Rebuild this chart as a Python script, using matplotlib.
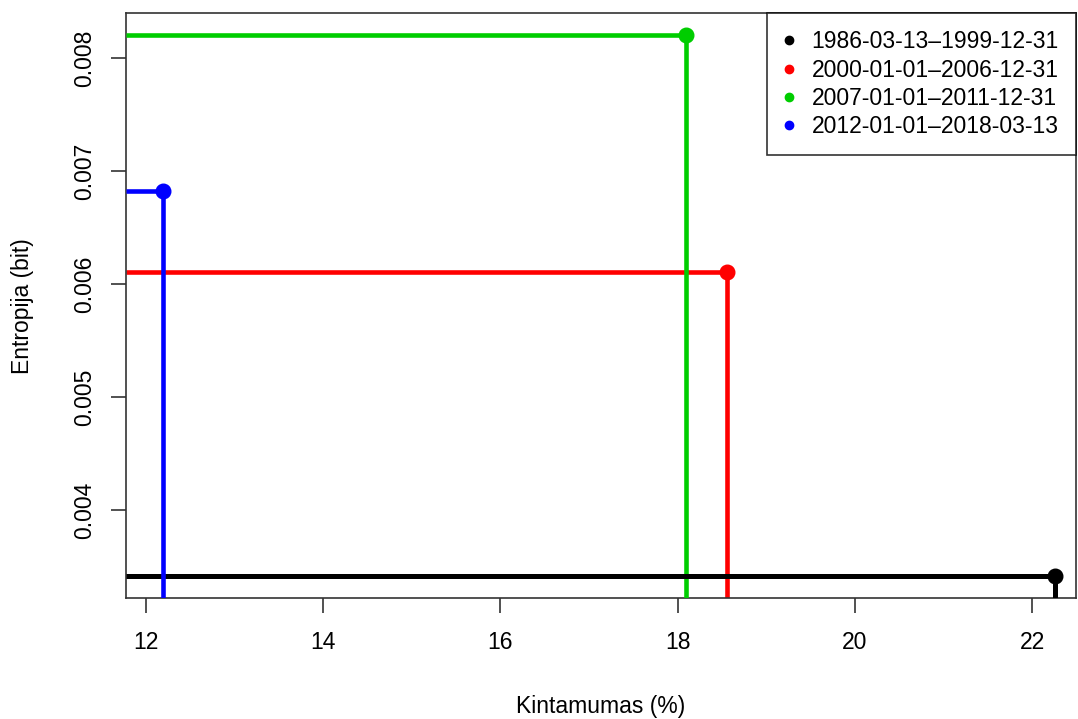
import matplotlib
import numpy as np

matplotlib.use("Agg")
import matplotlib.pyplot as plt
from matplotlib.lines import Line2D

plt.rcParams["font.family"] = ["Liberation Sans", "DejaVu Sans"]

# period labels, variability (%) and entropy (bit), one per period
periods = [
    "1986-03-13\u20131999-12-31",
    "2000-01-01\u20132006-12-31",
    "2007-01-01\u20132011-12-31",
    "2012-01-01\u20132018-03-13",
]
variability = [22.26, 18.56, 18.09, 12.20]
entropy = [0.00342, 0.00611, 0.00820, 0.00682]
colors = ["#000000", "#FF0000", "#00CD00", "#0000FF"]
x_ticks = [12, 14, 16, 18, 20, 22]
y_ticks = [0.004, 0.005, 0.006, 0.007, 0.008]

FS = 16.5

fig = plt.figure(figsize=(10.78, 7.19), dpi=100)
ax = fig.add_axes([0.1166, 0.1683, 0.8814, 0.8132])

xlo, xhi = 11.776, 22.49
ylo, yhi = 0.003221, 0.008396
ax.set_xlim(xlo, xhi)
ax.set_ylim(ylo, yhi)

# drawing order as in the original: red, green, black, blue
order = [1, 2, 0, 3]
for z, i in enumerate(order):
    lw = 3.6 if i == 0 else 3.3
    ax.plot([xlo, variability[i], variability[i]], [entropy[i], entropy[i], ylo],
            color=colors[i], lw=lw, solid_capstyle="butt", zorder=2 + z, clip_on=True)
    ax.plot(variability[i], entropy[i], "o", color=colors[i], ms=10.5, zorder=10 + z,
            clip_on=False)

ax.set_xticks(x_ticks)
ax.set_xticklabels([str(t) for t in x_ticks])
ax.set_yticks(y_ticks)
ax.set_yticklabels([f"{t:.3f}" for t in y_ticks], rotation=90, va="center")
ax.tick_params(axis="both", direction="out", length=10.5, width=1.2, labelsize=FS,
               colors="#333333", labelcolor="black")
ax.tick_params(axis="x", pad=13)
ax.tick_params(axis="y", pad=11)
for sp in ax.spines.values():
    sp.set_linewidth(1.2)
    sp.set_color("#333333")

fig.text(0.5 * (0.1166 + 0.998), 1 - 706 / 719, "Kintamumas (%)", ha="center",
         va="center", fontsize=FS)
fig.text(23 / 1078, 0.1683 + 0.8132 / 2, "Entropija (bit)", ha="center",
         va="center", rotation=90, fontsize=FS)

handles = [Line2D([], [], ls="none", marker="o", ms=6, color=c) for c in colors]
leg = ax.legend(handles, periods, loc="upper right", fontsize=FS, frameon=True,
                fancybox=False, edgecolor="black", borderaxespad=0,
                handletextpad=0.75, handlelength=0.42, labelspacing=0.22,
                borderpad=0.75)
leg.get_frame().set_linewidth(1.2)
leg.set_zorder(20)

fig.savefig("out.png", dpi=100)
